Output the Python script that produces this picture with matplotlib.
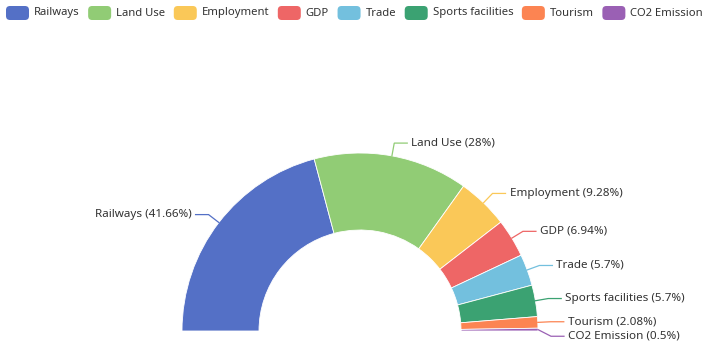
import numpy as np
import matplotlib
matplotlib.use("Agg")
import matplotlib.pyplot as plt
from matplotlib.patches import FancyBboxPatch

# データ
names = ["Railways", "Land Use", "Employment", "GDP", "Trade",
         "Sports facilities", "Tourism", "CO2 Emission"]
values = [41.66, 28, 9.28, 6.94, 5.7, 5.7, 2.08, 0.5]
colors = ["#5470c6", "#91cc75", "#fac858", "#ee6666", "#73c0de",
          "#3ba272", "#fc8452", "#9a60b4"]

W, H = 709, 346
plt.rcParams['font.family'] = ['Noto Sans', 'DejaVu Sans']
TEXT_COLOR = "#333333"


def draw_legend(fig, ax):
    box_w, box_h, gap_txt, item_gap = 23, 14, 5, 10
    y = H - 13
    fs = 8.1
    renderer = fig.canvas.get_renderer()
    widths = []
    for n in names:
        t = ax.text(0, 0, n, fontsize=fs)
        bb = t.get_window_extent(renderer=renderer)
        widths.append(bb.width)
        t.remove()
    total = sum(box_w + gap_txt + w for w in widths) + item_gap * (len(names) - 1)
    # 幅が足りない場合は間隔を詰める
    if total > W - 12:
        item_gap -= (total - (W - 12)) / (len(names) - 1)
        total = W - 12
    x = (W - total) / 2
    for n, c, w in zip(names, colors, widths):
        ax.add_patch(FancyBboxPatch((x, y - box_h / 2), box_w, box_h,
                                    boxstyle="round,pad=0,rounding_size=4",
                                    fc=c, ec="none"))
        ax.text(x + box_w + gap_txt, y, n, fontsize=fs, color=TEXT_COLOR,
                va="center", ha="left")
        x += box_w + gap_txt + w + item_gap


def main():
    fig = plt.figure(figsize=(W / 100, H / 100), dpi=100)
    ax = fig.add_axes([0, 0, 1, 1])

    cx, cy = 360, H - 331
    r_out, r_in = 178, 101
    total = sum(values)

    # 半円ドーナツ: 見えないスライスで下半分を埋める
    wedges, _ = ax.pie(values + [total], colors=colors + ["white"],
                       startangle=180, counterclock=False,
                       center=(cx, cy), radius=r_out,
                       wedgeprops=dict(width=r_out - r_in, edgecolor="white",
                                       linewidth=0.6))
    wedges[-1].set_visible(False)

    # ラベルとリーダー線
    len1, len2, gap = 13, 13, 4
    last_y_right = None
    for w, n, v, c in zip(wedges[:-1], names, values, colors):
        mid = np.deg2rad((w.theta1 + w.theta2) / 2)
        dx, dy = np.cos(mid), np.sin(mid)
        x0, y0 = cx + r_out * dx, cy + r_out * dy
        x1, y1 = cx + (r_out + len1) * dx, cy + (r_out + len1) * dy
        side = 1 if dx >= 0 else -1
        if side > 0:
            if last_y_right is not None and last_y_right - y1 < 14.5:
                y1 = last_y_right - 14.5
            last_y_right = y1
        x2 = x1 + side * len2
        ax.plot([x0, x1, x2], [y0, y1, y1], color=c, lw=0.9,
                solid_joinstyle="miter")
        ax.text(x2 + side * gap, y1, f"{n} ({v:g}%)", fontsize=8.4,
                color=TEXT_COLOR, va="center",
                ha="left" if side > 0 else "right")

    ax.set_xlim(0, W)
    ax.set_ylim(0, H)
    ax.axis("off")
    draw_legend(fig, ax)

    fig.savefig("out.png", dpi=100, facecolor="white")


if __name__ == "__main__":
    main()
